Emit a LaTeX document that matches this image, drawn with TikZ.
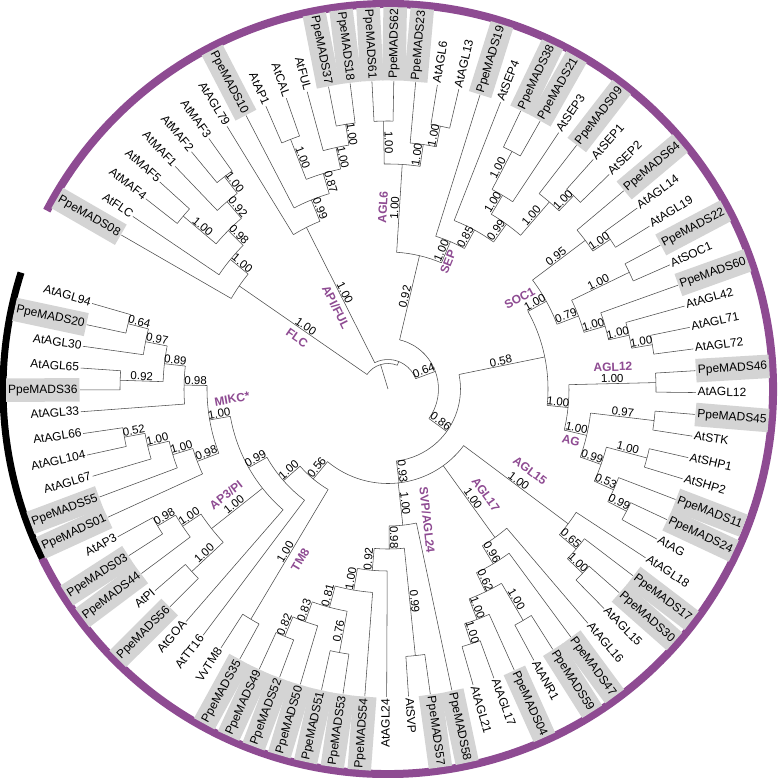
\documentclass[tikz,border=0pt]{standalone}
\usepackage{fontspec}
\setmainfont{Liberation Sans}
\definecolor{clade}{RGB}{142,75,146}
\definecolor{boxgray}{RGB}{212,212,212}
\newcommand\setnode[3]{%
  \expandafter\xdef\csname A@#1\endcsname{#2}%
  \expandafter\xdef\csname R@#1\endcsname{#3}}
\newcommand\An[1]{\csname A@#1\endcsname}
\newcommand\Rn[1]{\csname R@#1\endcsname}
\newcommand\getrot[1]{%
  \pgfmathsetmacro\nrm{#1}%
  \ifdim\nrm pt<-180pt \pgfmathsetmacro\nrm{\nrm+360}\fi
  \ifdim\nrm pt>90pt \pgfmathsetmacro\rot{\nrm-180}\def\anc{east}%
  \else\ifdim\nrm pt<-90pt \pgfmathsetmacro\rot{\nrm+180}\def\anc{east}%
  \else\let\rot\nrm\def\anc{west}\fi\fi}
\newcommand\leafnode[4]{%
  \pgfmathsetmacro\la{150-#2*4.072}%
  \setnode{#1}{\la}{308}%
  \expandafter\gdef\csname S@#1\endcsname{}%
  \coordinate (#1) at (\la:308);
  \getrot{\la}%
  \node[#4, rotate=\rot, anchor=\anc] (lab#1) at (\la:308.3) {#3};}
\newcommand\lf[3]{\leafnode{#1}{#2}{#3}{leaflab}}
\newcommand\bx[3]{\leafnode{#1}{#2}{#3}{boxlab}}
\newcommand\supp[2]{%
  \edef\supv{\csname S@#1\endcsname}%
  \ifx\supv\empty\else
    \edef\mang{\An{#1}}\edef\rch{\Rn{#1}}%
    \pgfmathsetmacro\mrad{(#2+\rch)/2}%
    \getrot{\mang}%
    \node[sup, rotate=\rot, anchor=south] (s#1) at (\mang:\mrad) {\supv};%
  \fi}
\newcommand\inode[4]{%
  \foreach \ch [count=\ci] in {#4} {\ifnum\ci=1 \xdef\firstch{\ch}\fi\xdef\lastch{\ch}}%
  \edef\afirst{\An{\firstch}}\edef\alast{\An{\lastch}}%
  \pgfmathsetmacro\na{(\afirst+\alast)/2}%
  \setnode{#1}{\na}{#2}%
  \expandafter\xdef\csname S@#1\endcsname{#3}%
  \coordinate (#1) at (\na:#2);
  \draw[br] (\afirst:#2) arc[start angle=\afirst, end angle=\alast, radius=#2];
  \foreach \ch in {#4} {\edef\ach{\An{\ch}}\draw[br] (\ach:#2) -- (\ch); \supp{\ch}{#2}}%
}
\tikzset{
 br/.style={draw=black!70, line width=0.55pt},
 leaflab/.style={font=\fontsize{12}{14}\selectfont, inner sep=1.2pt, text height=8.6pt, text depth=2.4pt},
 boxlab/.style={leaflab, fill=boxgray, minimum height=23.5pt, inner xsep=2pt},
 sup/.style={font=\fontsize{11.5}{13}\selectfont, inner sep=0.6pt},
 clab/.style={font=\fontsize{12}{14}\selectfont\bfseries, text=clade, inner sep=0pt},
}
\begin{document}
\begin{tikzpicture}[x=1pt,y=1pt]
\useasboundingbox[fill=white] (-388,-389) rectangle (390,389);
% outer arcs
\draw[line width=8pt, draw=clade] (152.4:385) arc[start angle=152.4, end angle=-153.9, radius=385];
\draw[line width=7pt, draw=black] (206.1:385) arc[start angle=206.1, end angle=162.4, radius=385];
% leaves
\bx{P08}{0}{PpeMADS08}
\lf{FLC}{1}{AtFLC}
\lf{MAF4}{2}{AtMAF4}
\lf{MAF5}{3}{AtMAF5}
\lf{MAF1}{4}{AtMAF1}
\lf{MAF2}{5}{AtMAF2}
\lf{MAF3}{6}{AtMAF3}
\lf{AGL79}{7}{AtAGL79}
\bx{P10}{8}{PpeMADS10}
\lf{AP1}{9}{AtAP1}
\lf{CAL}{10}{AtCAL}
\lf{FUL}{11}{AtFUL}
\bx{P37}{12}{PpeMADS37}
\bx{P18}{13}{PpeMADS18}
\bx{P61}{14}{PpeMADS61}
\bx{P62}{15}{PpeMADS62}
\bx{P23}{16}{PpeMADS23}
\lf{AGL6}{17}{AtAGL6}
\lf{AGL13}{18}{AtAGL13}
\bx{P19}{19}{PpeMADS19}
\lf{SEP4}{20}{AtSEP4}
\bx{P38}{21}{PpeMADS38}
\bx{P21}{22}{PpeMADS21}
\lf{SEP3}{23}{AtSEP3}
\bx{P09}{24}{PpeMADS09}
\lf{SEP1}{25}{AtSEP1}
\lf{SEP2}{26}{AtSEP2}
\bx{P64}{27}{PpeMADS64}
\lf{AGL14}{28}{AtAGL14}
\lf{AGL19}{29}{AtAGL19}
\bx{P22}{30}{PpeMADS22}
\lf{SOC1}{31}{AtSOC1}
\bx{P60}{32}{PpeMADS60}
\lf{AGL42}{33}{AtAGL42}
\lf{AGL71}{34}{AtAGL71}
\lf{AGL72}{35}{AtAGL72}
\bx{P46}{36}{PpeMADS46}
\lf{AGL12}{37}{AtAGL12}
\bx{P45}{38}{PpeMADS45}
\lf{STK}{39}{AtSTK}
\lf{SHP1}{40}{AtSHP1}
\lf{SHP2}{41}{AtSHP2}
\bx{P11}{42}{PpeMADS11}
\bx{P24}{43}{PpeMADS24}
\lf{AG}{44}{AtAG}
\lf{AGL18}{45}{AtAGL18}
\bx{P17}{46}{PpeMADS17}
\bx{P30}{47}{PpeMADS30}
\lf{AGL15}{48}{AtAGL15}
\lf{AGL16}{49}{AtAGL16}
\bx{P47}{50}{PpeMADS47}
\bx{P59}{51}{PpeMADS59}
\lf{ANR1}{52}{AtANR1}
\bx{P04}{53}{PpeMADS04}
\lf{AGL17}{54}{AtAGL17}
\lf{AGL21}{55}{AtAGL21}
\bx{P58}{56}{PpeMADS58}
\bx{P57}{57}{PpeMADS57}
\lf{SVP}{58}{AtSVP}
\lf{AGL24}{59}{AtAGL24}
\bx{P54}{60}{PpeMADS54}
\bx{P53}{61}{PpeMADS53}
\bx{P51}{62}{PpeMADS51}
\bx{P50}{63}{PpeMADS50}
\bx{P52}{64}{PpeMADS52}
\bx{P49}{65}{PpeMADS49}
\bx{P35}{66}{PpeMADS35}
\lf{TM8}{67}{VvTM8}
\lf{TT16}{68}{AtTT16}
\lf{GOA}{69}{AtGOA}
\bx{P56}{70}{PpeMADS56}
\lf{PI}{71}{AtPI}
\bx{P44}{72}{PpeMADS44}
\bx{P03}{73}{PpeMADS03}
\lf{AP3}{74}{AtAP3}
\bx{P01}{75}{PpeMADS01}
\bx{P55}{76}{PpeMADS55}
\lf{AGL67}{77}{AtAGL67}
\lf{AGL104}{78}{AtAGL104}
\lf{AGL66}{79}{AtAGL66}
\lf{AGL33}{80}{AtAGL33}
\bx{P36}{81}{PpeMADS36}
\lf{AGL65}{82}{AtAGL65}
\lf{AGL30}{83}{AtAGL30}
\bx{P20}{84}{PpeMADS20}
\lf{AGL94}{85}{AtAGL94}
% FLC
\inode{m23}{268}{1.00}{MAF2,MAF3}
\inode{m123}{247}{0.92}{MAF1,m23}
\inode{m45}{268}{1.00}{MAF4,MAF5}
\inode{maf}{225}{0.98}{m45,m123}
\inode{flcm}{204}{1.00}{FLC,maf}
\inode{flc}{181}{1.00}{P08,flcm}
% AP1/FUL
\inode{p3718}{268}{1.00}{P37,P18}
\inode{ful}{247}{1.00}{FUL,p3718}
\inode{apcal}{268}{1.00}{AP1,CAL}
\inode{n087}{225}{0.87}{apcal,ful}
\inode{n099a}{204}{0.99}{P10,n087}
\inode{apful}{181}{1.00}{AGL79,n099a}
% AGL6
\inode{p6162}{268}{1.00}{P61,P62}
\inode{a613}{268}{1.00}{AGL6,AGL13}
\inode{p23a}{247}{1.00}{P23,a613}
\inode{agl6}{225}{1.00}{p6162,p23a}
% SEP
\inode{p3821}{268}{1.00}{P38,P21}
\inode{sC}{225}{1.00}{p3821,SEP3}
\inode{s12}{268}{1.00}{SEP1,SEP2}
\inode{sD}{247}{1.00}{P09,s12}
\inode{sB}{203}{0.99}{sC,sD}
\inode{sA}{181}{0.85}{SEP4,sB}
\inode{sep}{160}{1.00}{P19,sA}
\inode{agl6sep}{137}{0.92}{agl6,sep}
% SOC1
\inode{a1419}{268}{1.00}{AGL14,AGL19}
\inode{sE}{247}{0.95}{P64,a1419}
\inode{p22s}{268}{1.00}{P22,SOC1}
\inode{a7172}{268}{1.00}{AGL71,AGL72}
\inode{sH}{247}{1.00}{AGL42,a7172}
\inode{sG}{226}{1.00}{P60,sH}
\inode{sF}{204}{0.79}{p22s,sG}
\inode{soc}{181}{1.00}{sE,sF}
% AGL12, AG
\inode{agl12}{268}{1.00}{P46,AGL12}
\inode{p45s}{268}{0.97}{P45,STK}
\inode{shp}{268}{1.00}{SHP1,SHP2}
\inode{p24ag}{268}{0.99}{P24,AG}
\inode{gY}{247}{0.53}{P11,p24ag}
\inode{gX}{226}{0.99}{shp,gY}
\inode{ag}{204}{1.00}{p45s,gX}
\inode{c12ag}{181}{1.00}{agl12,ag}
\inode{n058}{160}{0.58}{soc,c12ag}
% AGL15
\inode{p30a}{268}{1.00}{P30,AGL15}
\inode{n065}{247}{0.65}{P17,p30a}
\inode{agl15}{225}{1.00}{AGL18,n065}
% AGL17
\inode{a1721}{268}{1.00}{AGL17,AGL21}
\inode{p04a}{247}{1.00}{P04,a1721}
\inode{p59a}{268}{1.00}{P59,ANR1}
\inode{n062}{225}{0.62}{p59a,p04a}
\inode{n096}{204}{0.96}{P47,n062}
\inode{agl17}{183}{1.00}{AGL16,n096}
% SVP/AGL24
\inode{p57s}{268}{0.99}{P57,SVP}
\inode{p5249}{268}{0.82}{P52,P49}
\inode{tU}{247}{0.83}{P50,p5249}
\inode{p5351}{268}{0.76}{P53,P51}
\inode{tV}{226}{0.81}{p5351,tU}
\inode{tW}{204}{1.00}{P54,tV}
\inode{n092}{182}{0.92}{AGL24,tW}
\inode{n098}{160}{0.98}{p57s,n092}
\inode{svp}{137}{1.00}{P58,n098}
% TM8
\inode{tm8}{268}{1.00}{P35,TM8}
% AP3/PI
\inode{p03ap3}{268}{0.98}{P03,AP3}
\inode{p44a}{247}{1.00}{P44,p03ap3}
\inode{p56pi}{268}{1.00}{P56,PI}
\inode{ap3pi}{225}{1.00}{p56pi,p44a}
% MIKC*
\inode{p2094}{268}{0.64}{P20,AGL94}
\inode{n097}{247}{0.97}{AGL30,p2094}
\inode{p6536}{268}{0.92}{P36,AGL65}
\inode{n089}{225}{0.89}{p6536,n097}
\inode{n098m}{204}{0.98}{AGL33,n089}
\inode{a66104}{268}{0.52}{AGL104,AGL66}
\inode{a67}{247}{1.00}{AGL67,a66104}
\inode{p55a}{225}{1.00}{P55,a67}
\inode{p01a}{204}{0.98}{P01,p55a}
\inode{mikc}{181}{1.00}{p01a,n098m}
% backbone
\inode{n099b}{160}{0.99}{GOA,ap3pi,mikc}
\inode{n100b}{139}{1.00}{TT16,n099b}
\inode{n056}{117}{0.56}{tm8,n100b}
\inode{n093}{94.5}{0.93}{agl15,agl17,svp,n056}
\inode{n086}{72.5}{0.86}{n058,n093}
\inode{n064}{50.5}{0.64}{agl6sep,n086}
\inode{rX}{29.5}{}{apful,n064}
\inode{root}{25.5}{}{flc,rX}
\draw[br] (0,0) -- (root);
% clade labels
\node[clab, rotate=-34.7] (cFLC) at (150.7:104.3) {FLC};
\node[clab, rotate=-63.2] (cAP1) at (122.4:97) {API/FUL};
\node[clab, rotate=86.4] (cAGL6) at (91.6:182) {AGL6};
\node[clab, rotate=68] (cSEP) at (64.7:140.5) {SEP};
\node[clab, rotate=29] (cSOC1) at (34.6:160) {SOC1};
\node[clab, rotate=1.4] (cAGL12) at (5.6:226) {AGL12};
\node[clab, rotate=-13] (cAG) at (-15.6:190) {AG};
\node[clab, rotate=-36.8] (cAGL15) at (-30:164) {AGL15};
\node[clab, rotate=-54.2] (cAGL17) at (-47.2:144) {AGL17};
\node[clab, rotate=-83.7] (cSVP) at (-73.4:137) {SVP/AGL24};
\node[clab, rotate=59.2] (cTM8) at (-117.2:192) {TM8};
\node[clab, rotate=38.35] (cAP3) at (-146.8:193.6) {AP3/PI};
\node[clab, rotate=9.85] (cMIKC) at (-176.3:156.3) {MIKC*};
\end{tikzpicture}
\end{document}
